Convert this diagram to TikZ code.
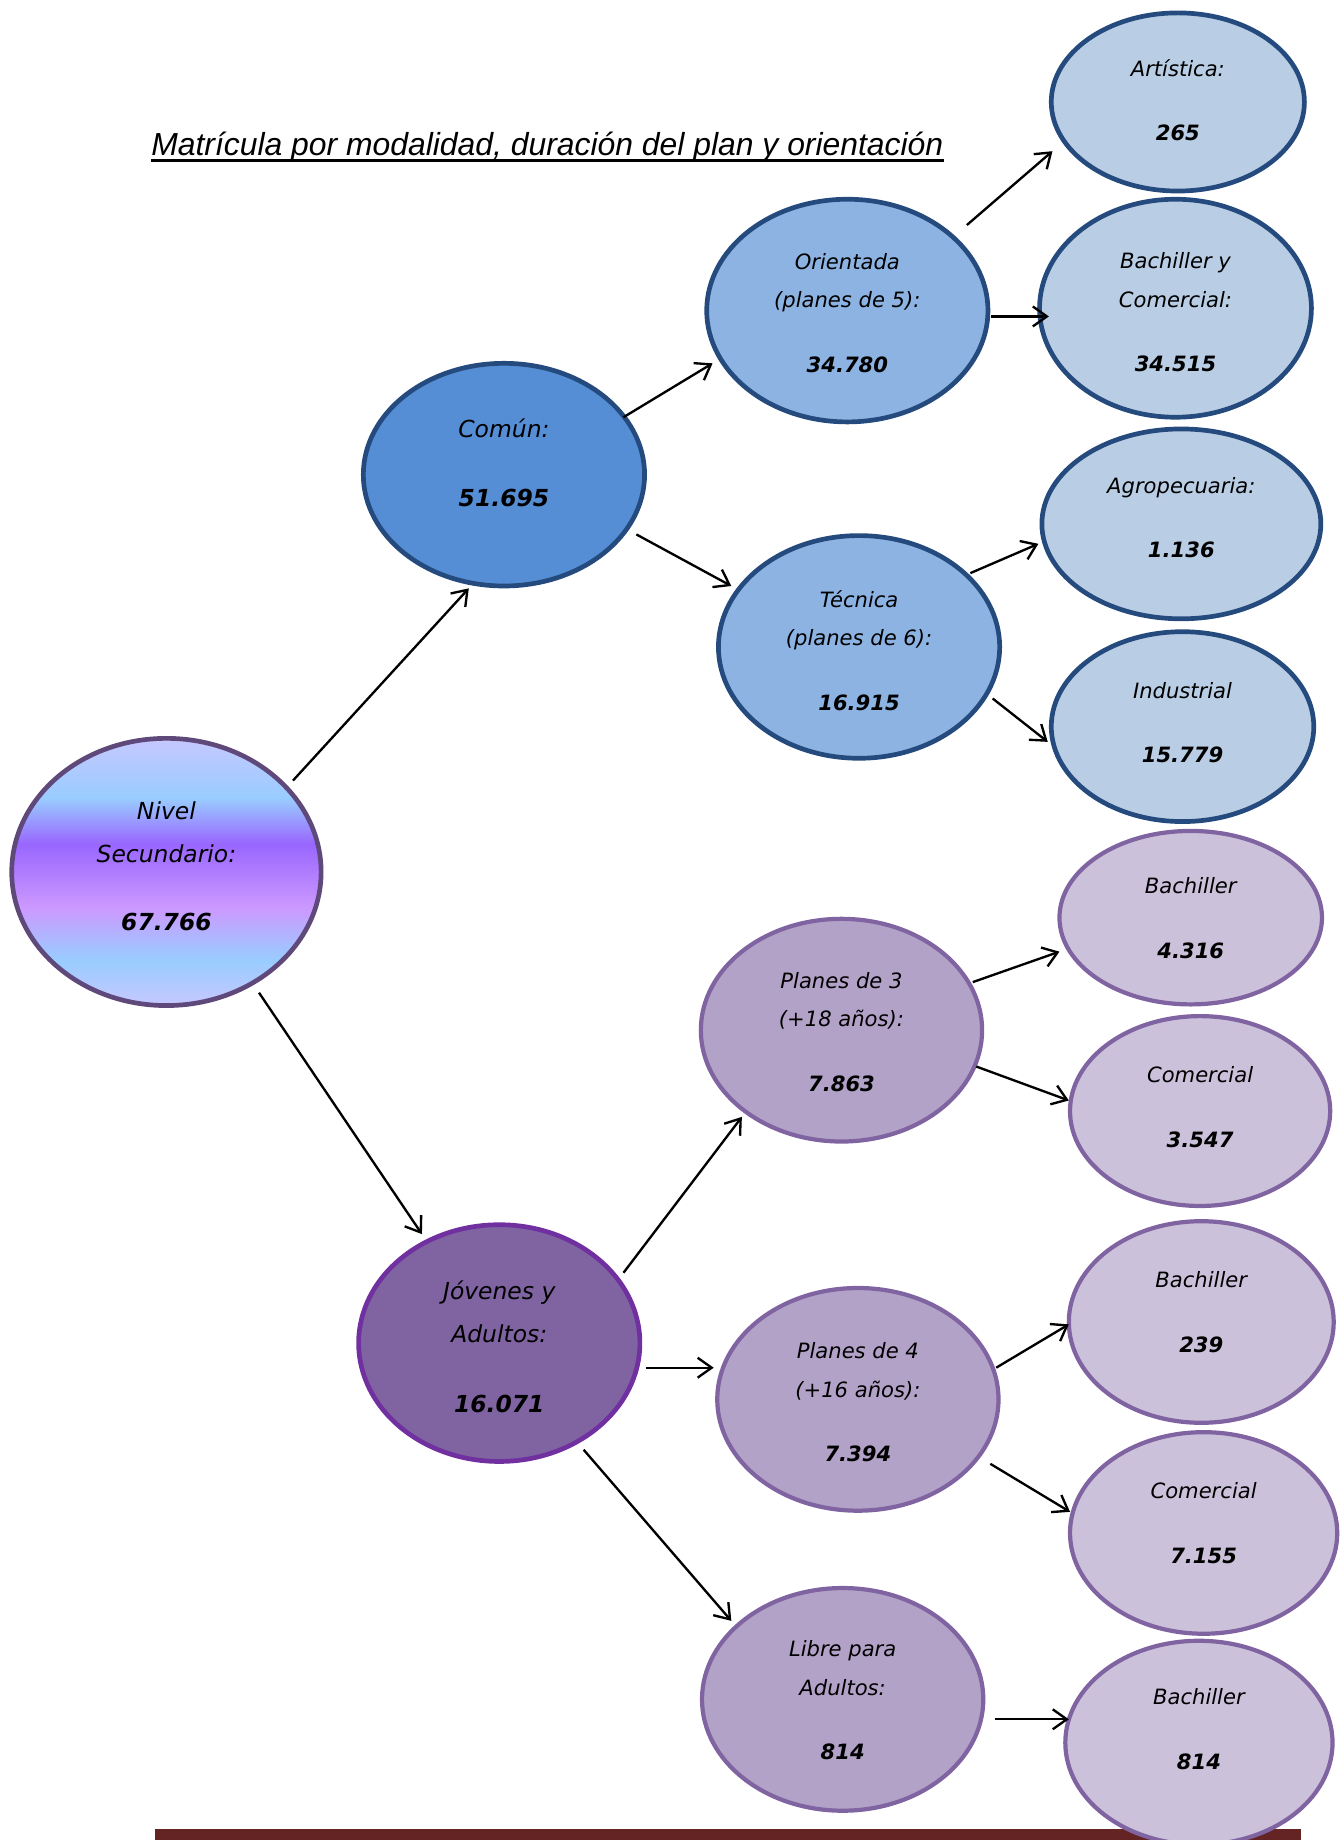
\documentclass[tikz,border=0pt]{standalone}
\usepackage{fontspec}
\setmainfont{DejaVu Sans}
\newfontfamily\titlefont{Liberation Sans}
\usetikzlibrary{shapes.geometric,arrows.meta,calc}

\definecolor{blueline}{HTML}{254A7D}
\definecolor{comunfill}{HTML}{558ED5}
\definecolor{midblue}{HTML}{8DB3E2}
\definecolor{lightblue}{HTML}{B9CDE5}
\definecolor{jovfill}{HTML}{8064A2}
\definecolor{jovline}{HTML}{7030A0}
\definecolor{midpurple}{HTML}{B2A2C7}
\definecolor{lightpurple}{HTML}{CCC1DA}
\definecolor{purpleline}{HTML}{8064A2}
\definecolor{nivelline}{HTML}{5F497A}
\definecolor{barcol}{HTML}{632423}
\definecolor{glav}{HTML}{C6C8FF}
\definecolor{gblue}{HTML}{99CCFF}
\definecolor{gpurp}{HTML}{9966FF}
\definecolor{gviol}{HTML}{CC99FF}

\pgfdeclareverticalshading{nivelshade}{100bp}{color(0bp)=(glav); color(25bp)=(glav); color(33.6bp)=(gblue); color(43.3bp)=(gviol); color(55.2bp)=(gpurp); color(63.8bp)=(gblue); color(75bp)=(glav); color(100bp)=(glav)}

\begin{document}
\begin{tikzpicture}[x=0.5pt,y=-0.5pt,
  ell/.style={ellipse, draw, line width=2pt, inner sep=0pt},
  sz/.style 2 args={minimum width=#1pt, minimum height=#2pt},
  bluebig/.style={ell, draw=blueline, fill=comunfill},
  bluemid/.style={ell, draw=blueline, fill=midblue},
  bluesmall/.style={ell, draw=blueline, fill=lightblue},
  purpbig/.style={ell, draw=jovline, fill=jovfill},
  purpmid/.style={ell, draw=purpleline, line width=1.8pt, fill=midpurple},
  purpsmall/.style={ell, draw=purpleline, line width=1.8pt, fill=lightpurple},
  txtbig/.style={align=center, inner sep=0pt, font=\fontsize{10}{18.5}\selectfont\itshape},
  txt/.style={align=center, inner sep=0pt, font=\fontsize{9}{16.5}\selectfont\itshape},
  arr/.style={line width=1pt, -{Straight Barb[length=6pt,width=8.5pt,line width=1pt]}}
]
\useasboundingbox (0,0) rectangle (1145,1570);

% title
\node[inner sep=0pt, anchor=base, font=\titlefont\itshape\fontsize{13.6}{16}\selectfont] (title) at (467,133) {Matrícula por modalidad, duración del plan y orientación};
\draw[line width=1pt] ($(title.base west)+(0,4)$) -- ($(title.base east)+(0,4)$);

% bottom bar
\fill[barcol] (132,1561) rectangle (1110,1570);

% ellipses
\node[ell, draw=nivelline, shading=nivelshade, sz={132}{114}] (nivel) at (142,744) {};
\node[bluebig, sz={120}{95}] (comun) at (430,405) {};
\node[bluemid, sz={120}{95}] (ori) at (723,265) {};
\node[bluemid, sz={120}{95}] (tec) at (733,552) {};
\node[bluesmall, sz={108}{76}] (art) at (1005,87) {};
\node[bluesmall, sz={116}{93}] (bcom) at (1003,263) {};
\node[bluesmall, sz={119}{81}] (agro) at (1008,447) {};
\node[bluesmall, sz={112}{81}] (ind) at (1009,620) {};
\node[purpbig, sz={120}{101}] (jov) at (426,1146) {};
\node[purpmid, sz={120}{95}] (p3) at (718,879) {};
\node[purpmid, sz={120}{95}] (p4) at (732,1194) {};
\node[purpmid, sz={120}{95}] (libre) at (719,1450) {};
\node[purpsmall, sz={112}{74}] (b1) at (1016,783) {};
\node[purpsmall, sz={111}{81}] (c1) at (1024,948) {};
\node[purpsmall, sz={113}{86}] (b2) at (1025,1128) {};
\node[purpsmall, sz={114}{86}] (c2) at (1027,1308) {};
\node[purpsmall, sz={114}{87}] (b3) at (1023,1487) {};

% texts
\node[txtbig] (nivelT) at ($(nivel)+(0,-5)$) {Nivel\\Secundario:\\[10.5pt]\textbf{67.766}};
\node[txtbig] (comunT) at ($(comun)+(0,-10)$) {Común:\\[11pt]\textbf{51.695}};
\node[txtbig] (jovT) at ($(jov)+(0,3)$) {Jóvenes y\\Adultos:\\[11pt]\textbf{16.071}};
\node[txt] (oriT) at ($(ori)+(0,2)$) {Orientada\\(planes de 5):\\[11pt]\textbf{34.780}};
\node[txt] (tecT) at ($(tec)+(0,3)$) {Técnica\\(planes de 6):\\[11pt]\textbf{16.915}};
\node[txt] (artT) at ($(art)+(0,-1.5)$) {Artística:\\[11pt]\textbf{265}};
\node[txt] (bcomT) at ($(bcom)+(0,3.5)$) {Bachiller y\\Comercial:\\[11pt]\textbf{34.515}};
\node[txt] (agroT) at ($(agro)+(0,-5.5)$) {Agropecuaria:\\[11pt]\textbf{1.136}};
\node[txt] (indT) at ($(ind)+(0,-3.5)$) {Industrial\\[11pt]\textbf{15.779}};
\node[txt] (p3T) at ($(p3)+(0,1.5)$) {Planes de 3\\(+18 años):\\[11pt]\textbf{7.863}};
\node[txt] (p4T) at ($(p4)+(0,2.5)$) {Planes de 4\\(+16 años):\\[11pt]\textbf{7.394}};
\node[txt] (libreT) at ($(libre)+(0,1)$) {Libre para\\Adultos:\\[11pt]\textbf{814}};
\node[txt] (b1T) at ($(b1)+(0,0.5)$) {Bachiller\\[11pt]\textbf{4.316}};
\node[txt] (c1T) at ($(c1)+(0,-3.5)$) {Comercial\\[11pt]\textbf{3.547}};
\node[txt] (b2T) at ($(b2)+(0,-8.5)$) {Bachiller\\[11pt]\textbf{239}};
\node[txt] (c2T) at ($(c2)+(0,-8.5)$) {Comercial\\[11pt]\textbf{7.155}};
\node[txt] (b3T) at ($(b3)+(0,-11.5)$) {Bachiller\\[11pt]\textbf{814}};

% connectors
\draw[arr] ($(nivel)+(108,-78)$) -- ($(comun)+(-30,97)$);
\draw[arr] ($(nivel)+(79,103)$) -- ($(jov)+(-66,-93)$);
\draw[arr] ($(comun)+(102,-49)$) -- ($(ori)+(-115,45)$);
\draw[arr] ($(comun)+(113,51)$) -- ($(tec)+(-109,-52)$);
\draw[arr] ($(ori)+(102,-73)$) -- ($(art)+(-107,42)$);
\draw[arr] ($(ori)+(123,5)$) -- ($(bcom)+(-108,7)$);
\draw[arr] ($(tec)+(95,-63)$) -- ($(agro)+(-122,17)$);
\draw[arr] ($(tec)+(114,44)$) -- ($(ind)+(-115,13)$);
\draw[arr] ($(jov)+(106,-60)$) -- ($(p3)+(-85,74)$);
\draw[arr] ($(jov)+(125,21)$) -- ($(p4)+(-123,-27)$);
\draw[arr] ($(jov)+(72,91)$) -- ($(libre)+(-95,-67)$);
\draw[arr] ($(p3)+(112,-41)$) -- ($(b1)+(-112,29)$);
\draw[arr] ($(p3)+(115,31)$) -- ($(c1)+(-112,-9)$);
\draw[arr] ($(p4)+(118,-27)$) -- ($(b2)+(-113,2)$);
\draw[arr] ($(p4)+(113,55)$) -- ($(c2)+(-114,-18)$);
\draw[arr] ($(libre)+(130,17)$) -- ($(b3)+(-111,-20)$);
\end{tikzpicture}
\end{document}
